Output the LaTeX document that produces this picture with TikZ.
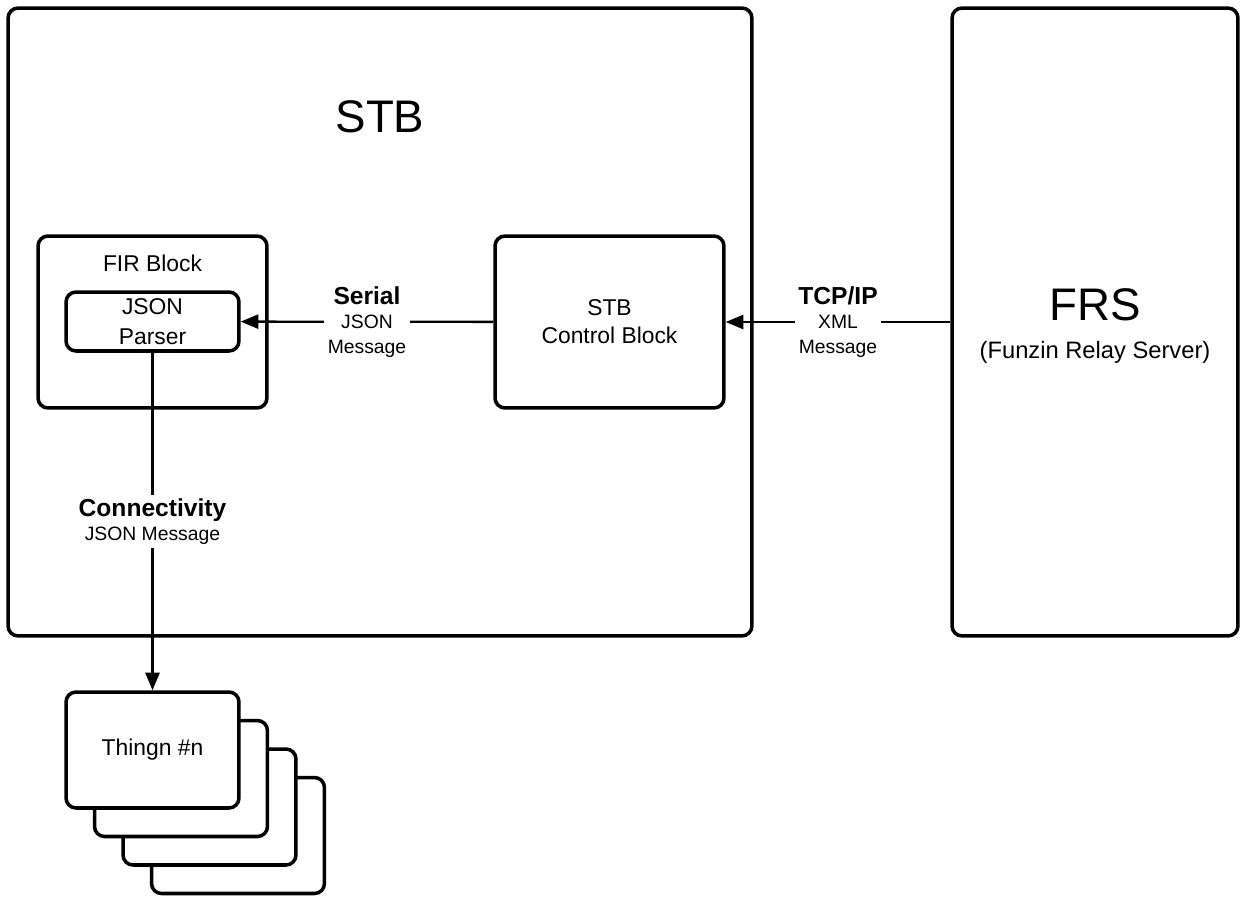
\documentclass[tikz,border=0pt]{standalone}
\usepackage{fontspec}
\setmainfont{Liberation Sans}
\usetikzlibrary{arrows.meta, positioning}
\tikzset{>={Triangle[length=10pt,width=8pt]}}

\begin{document}
\begin{tikzpicture}[x=0.02cm, y=-0.02cm,
    box/.style={draw, line width=2pt, rounded corners=0.2cm, fill=white, align=center, inner sep=0pt, font=\fontsize{13}{16}\selectfont},
    flow/.style={->, line width=1.3pt},
    msg/.style={fill=white, align=center, inner sep=2pt, font=\fontsize{11}{14}\selectfont}]
    \useasboundingbox (0,0) rectangle (1243,896);
    % outer blocks
    \node[box, minimum width=14.88cm, minimum height=12.56cm] (stb) at (380,322) {};
    \node[font=\fontsize{26}{30}\selectfont] (stbtitle) at (380,117) {STB};
    \node[box, minimum width=5.72cm, minimum height=12.56cm] (frs) at (1095,322) {};
    \node[font=\fontsize{26}{30}\selectfont] (frstitle) at (1095,305) {FRS};
    \node[font=\fontsize{13.5}{16}\selectfont] (frssub) at (1095,352) {(Funzin Relay Server)};
    % inner blocks
    \node[box, minimum width=4.58cm, minimum height=3.44cm] (fir) at (152.5,322) {};
    \node[font=\fontsize{13}{16}\selectfont] (firtitle) at (152.5,263) {FIR Block};
    \node[box, minimum width=3.46cm, minimum height=1.18cm, font=\fontsize{13}{17}\selectfont] (parser) at (152.5,321.5) {JSON\\Parser};
    \node[box, minimum width=4.58cm, minimum height=3.44cm] (ctrl) at (609.5,322) {STB\\Control Block};
    % things
    \foreach \i in {3,2,1}
        \node[box, minimum width=3.46cm, minimum height=2.32cm] (thing\i) at (152.5+\i*28.5,750+\i*28.5) {};
    \node[box, minimum width=3.46cm, minimum height=2.32cm] (thingn) at (152.5,750) {Thingn \#n};
    % messages
    \draw[flow] (ctrl) -- node[msg] {{\fontsize{14}{14}\selectfont\bfseries Serial}\\JSON\\Message} (parser);
    \draw[flow] (frs) -- node[msg] {{\fontsize{14}{14}\selectfont\bfseries TCP/IP}\\XML\\Message} (ctrl);
    \draw[flow] (parser) -- node[msg] {{\fontsize{14}{14}\selectfont\bfseries Connectivity}\\JSON Message} (thingn);
\end{tikzpicture}
\end{document}
